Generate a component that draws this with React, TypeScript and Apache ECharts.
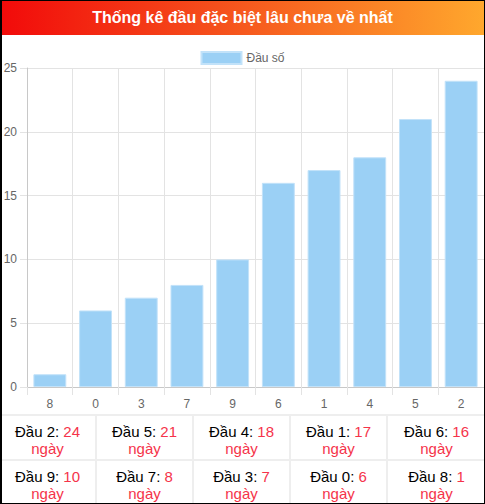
import { useEffect, useRef } from 'react'
import * as echarts from 'echarts'

const FONT = '"Liberation Sans", Arial, Helvetica, sans-serif'

// Chart data (ascending order as in the bar chart)
const heads = ['8', '0', '3', '7', '9', '6', '1', '4', '5', '2']
const days = [1, 6, 7, 8, 10, 16, 17, 18, 21, 24]
const yTicks = [0, 5, 10, 15, 20, 25]

const title = 'Thống kê đầu đặc biệt lâu chưa về nhất'
const legendName = 'Đầu số'

function BarChart() {
  const chartRef = useRef<HTMLDivElement>(null)

  useEffect(() => {
    if (!chartRef.current) return
    const chart = echarts.init(chartRef.current, null, { renderer: 'svg' })

    const option = {
      animation: false,
      textStyle: { fontFamily: FONT },
      legend: {
        data: [legendName],
        top: 11,
        left: 'center',
        itemWidth: 40,
        itemHeight: 12,
        itemGap: 10,
        textStyle: { color: '#666', fontSize: 12, fontFamily: FONT },
        icon: 'rect',
      },
      grid: {
        left: 27,
        right: 1,
        top: 33,
        bottom: 28,
      },
      xAxis: {
        type: 'category',
        data: heads,
        boundaryGap: true,
        axisLine: { show: true, lineStyle: { color: '#c8c8c8', width: 1 } },
        axisTick: { show: true, length: 8, lineStyle: { color: '#e3e3e3' } },
        splitLine: { show: true, lineStyle: { color: '#e3e3e3', width: 1 } },
        axisLabel: { color: '#666', fontSize: 12, margin: 11, fontFamily: FONT },
      },
      yAxis: {
        type: 'value',
        min: yTicks[0],
        max: yTicks[yTicks.length - 1],
        interval: 5,
        axisLine: { show: true, lineStyle: { color: '#c8c8c8', width: 1 } },
        axisTick: { show: true, length: 7, lineStyle: { color: '#e3e3e3' } },
        splitLine: { show: true, lineStyle: { color: '#e3e3e3', width: 1 } },
        axisLabel: { color: '#666', fontSize: 12, margin: 10, fontFamily: FONT },
      },
      series: [
        {
          name: legendName,
          type: 'bar',
          data: days,
          barWidth: '72%',
          itemStyle: {
            color: '#9bd0f5',
            borderColor: '#c2e2f9',
            borderWidth: 1,
          },
        },
      ],
    }

    chart.setOption(option)
    return () => {
      chart.dispose()
    }
  }, [])

  return <div ref={chartRef} style={{ width: 485, height: 380 }} />
}

export default function App() {
  useEffect(() => {
    document.body.style.margin = '0'
  }, [])

  // table lists heads from longest absence down
  const order = heads.map((h, i) => ({ h, d: days[i] })).reverse()
  const rows = [order.slice(0, 5), order.slice(5, 10)]

  return (
    <div
      style={{
        position: 'relative',
        width: 485,
        height: 504,
        overflow: 'hidden',
        background: '#fff',
        fontFamily: FONT,
      }}
    >
      <div
        style={{
          position: 'absolute',
          left: 0,
          top: 0,
          width: 485,
          height: 35,
          background: 'linear-gradient(to right, #f20a0a, #f5501c 45%, #ffa82d)',
          color: '#fff',
          fontWeight: 'bold',
          fontSize: 16,
          lineHeight: '35px',
          textAlign: 'center',
        }}
      >
        {title}
      </div>
      <div style={{ position: 'absolute', left: 0, top: 35 }}>
        <BarChart />
      </div>
      <div style={{ position: 'absolute', left: 0, top: 414, width: 485, height: 90 }}>
        {rows.map((row, r) => (
          <div key={r} style={{ display: 'flex', height: 45 }}>
            {row.map((c, k) => (
              <div
                key={k}
                style={{
                  width: 97,
                  boxSizing: 'border-box',
                  borderTop: '2px solid #eee',
                  borderRight: k < 4 ? '2px solid #eee' : 'none',
                  textAlign: 'center',
                  fontSize: 15,
                  lineHeight: '17px',
                  paddingTop: 7,
                  color: '#000',
                }}
              >
                <div>
                  Đầu {c.h}: <span style={{ color: '#f5334a' }}>{c.d}</span>
                </div>
                <div style={{ color: '#f5334a' }}>ngày</div>
              </div>
            ))}
          </div>
        ))}
      </div>
      <div
        style={{
          position: 'absolute',
          inset: 0,
          boxSizing: 'border-box',
          borderTop: '1px solid #000',
          borderBottom: '1px solid #000',
          borderRight: '1px solid #000',
          borderLeft: '2px solid #000',
          pointerEvents: 'none',
        }}
      />
    </div>
  )
}
